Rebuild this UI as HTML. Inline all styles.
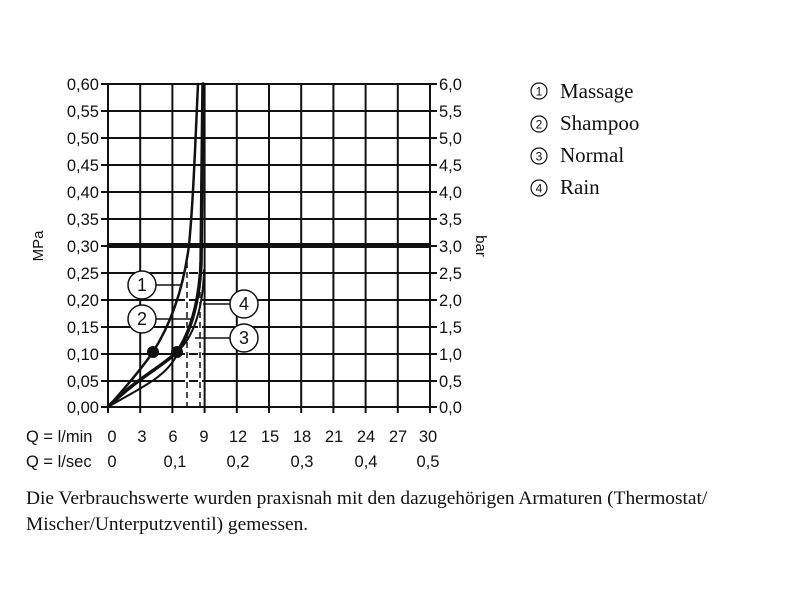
<!DOCTYPE html>
<html><head><meta charset="utf-8"><style>
body{margin:0;background:#fff;width:800px;height:600px;overflow:hidden}
svg text{font-family:"Liberation Sans",sans-serif;fill:#111}
.s{font-family:"Liberation Serif",serif}
</style></head><body>
<svg width="800" height="600" viewBox="0 0 800 600" xmlns="http://www.w3.org/2000/svg">
<g stroke="#111" stroke-width="2" fill="none">
<line x1="108" y1="84" x2="108" y2="413"/><line x1="140.2" y1="84" x2="140.2" y2="413"/>
<line x1="172.4" y1="84" x2="172.4" y2="413"/><line x1="204.6" y1="84" x2="204.6" y2="413"/>
<line x1="236.8" y1="84" x2="236.8" y2="413"/><line x1="269" y1="84" x2="269" y2="413"/>
<line x1="301.2" y1="84" x2="301.2" y2="413"/><line x1="333.4" y1="84" x2="333.4" y2="413"/>
<line x1="365.6" y1="84" x2="365.6" y2="413"/><line x1="397.8" y1="84" x2="397.8" y2="413"/>
<line x1="430" y1="84" x2="430" y2="413"/>
<line x1="101" y1="84" x2="437" y2="84"/><line x1="101" y1="111" x2="437" y2="111"/>
<line x1="101" y1="138" x2="437" y2="138"/><line x1="101" y1="165" x2="437" y2="165"/>
<line x1="101" y1="192" x2="437" y2="192"/><line x1="101" y1="219" x2="437" y2="219"/>
<line x1="101" y1="246" x2="437" y2="246"/><line x1="101" y1="273" x2="437" y2="273"/>
<line x1="101" y1="300" x2="437" y2="300"/><line x1="101" y1="327" x2="437" y2="327"/>
<line x1="101" y1="354" x2="437" y2="354"/><line x1="101" y1="381" x2="437" y2="381"/>
<line x1="101" y1="407" x2="437" y2="407"/>
</g>
<line x1="108" y1="245.5" x2="430" y2="245.5" stroke="#111" stroke-width="5"/>
<g stroke="#fff" stroke-width="4"><line x1="187" y1="262" x2="187" y2="406"/><line x1="200" y1="262" x2="200" y2="406"/></g>
<g stroke="#111" stroke-width="1.5" stroke-dasharray="6,4"><line x1="187" y1="262" x2="187" y2="406"/><line x1="200" y1="262" x2="200" y2="406"/></g>
<g fill="none" stroke="#111" stroke-linecap="round">
<path d="M108,407 C125,388 142,368 153,352 C172,322 184,285 189,245 C193,205 195,150 198,84" stroke-width="2.5"/>
<path d="M108,407 C135,380 160,368 177,352 C192,330 199,300 201,265 C202,220 202,150 203,84" stroke-width="3.5"/>
<path d="M177,352 C193,338 203,310 204,270" stroke-width="2"/>
<path d="M108,407 C140,388 165,378 177,355" stroke-width="2"/>
</g>
<circle cx="153" cy="352" r="6" fill="#111"/><circle cx="177" cy="352" r="6" fill="#111"/>
<g stroke="#111" stroke-width="1.5" fill="#fff">
<line x1="156" y1="285" x2="182" y2="285"/><line x1="156" y1="319" x2="192" y2="319"/>
<line x1="230" y1="304" x2="203" y2="304"/><line x1="230" y1="338" x2="195" y2="338"/>
<circle cx="142" cy="285" r="14"/><circle cx="142" cy="319" r="14"/>
<circle cx="244" cy="304" r="14"/><circle cx="244" cy="338" r="14"/>
</g>
<g font-size="18" text-anchor="middle">
<text x="142" y="291">1</text><text x="142" y="325">2</text>
<text x="244" y="310">4</text><text x="244" y="344">3</text>
</g>
<g font-size="16.5" text-anchor="end">
<text x="99" y="90">0,60</text><text x="99" y="117">0,55</text><text x="99" y="144">0,50</text>
<text x="99" y="171">0,45</text><text x="99" y="198">0,40</text><text x="99" y="225">0,35</text>
<text x="99" y="252">0,30</text><text x="99" y="279">0,25</text><text x="99" y="306">0,20</text>
<text x="99" y="333">0,15</text><text x="99" y="360">0,10</text><text x="99" y="387">0,05</text>
<text x="99" y="413">0,00</text>
</g>
<g font-size="16.5">
<text x="439" y="90">6,0</text><text x="439" y="117">5,5</text><text x="439" y="144">5,0</text>
<text x="439" y="171">4,5</text><text x="439" y="198">4,0</text><text x="439" y="225">3,5</text>
<text x="439" y="252">3,0</text><text x="439" y="279">2,5</text><text x="439" y="306">2,0</text>
<text x="439" y="333">1,5</text><text x="439" y="360">1,0</text><text x="439" y="387">0,5</text>
<text x="439" y="413">0,0</text>
</g>
<text font-size="15" transform="translate(43,246) rotate(-90)" text-anchor="middle">MPa</text>
<text font-size="15" transform="translate(476,246) rotate(90)" text-anchor="middle">bar</text>
<g font-size="16.5" text-anchor="middle">
<text x="26" y="442" text-anchor="start">Q = l/min</text>
<text x="112" y="442">0</text><text x="142" y="442">3</text><text x="173" y="442">6</text>
<text x="204" y="442">9</text><text x="238" y="442">12</text><text x="270" y="442">15</text>
<text x="302" y="442">18</text><text x="334" y="442">21</text><text x="366" y="442">24</text>
<text x="398" y="442">27</text><text x="428" y="442">30</text>
<text x="26" y="467" text-anchor="start">Q = l/sec</text>
<text x="112" y="467">0</text><text x="175" y="467">0,1</text><text x="238" y="467">0,2</text>
<text x="302" y="467">0,3</text><text x="366" y="467">0,4</text><text x="428" y="467">0,5</text>
</g>
<g fill="none" stroke="#111" stroke-width="1.2">
<circle cx="539" cy="91" r="8"/><circle cx="539" cy="124" r="8"/>
<circle cx="539" cy="156" r="8"/><circle cx="539" cy="188" r="8"/>
</g>
<g font-size="12" text-anchor="middle">
<text x="539" y="95.5">1</text><text x="539" y="128.5">2</text>
<text x="539" y="160.5">3</text><text x="539" y="192.5">4</text>
</g>
<g font-size="21">
<text class="s" x="560" y="98">Massage</text>
<text class="s" x="560" y="130">Shampoo</text>
<text class="s" x="560" y="162">Normal</text>
<text class="s" x="560" y="194">Rain</text>
</g>
<text class="s" x="26" y="504" font-size="19.4">Die Verbrauchswerte wurden praxisnah mit den dazugehörigen Armaturen (Thermostat/</text>
<text class="s" x="26" y="530" font-size="19.4">Mischer/Unterputzventil) gemessen.</text>
</svg>
</body></html>
